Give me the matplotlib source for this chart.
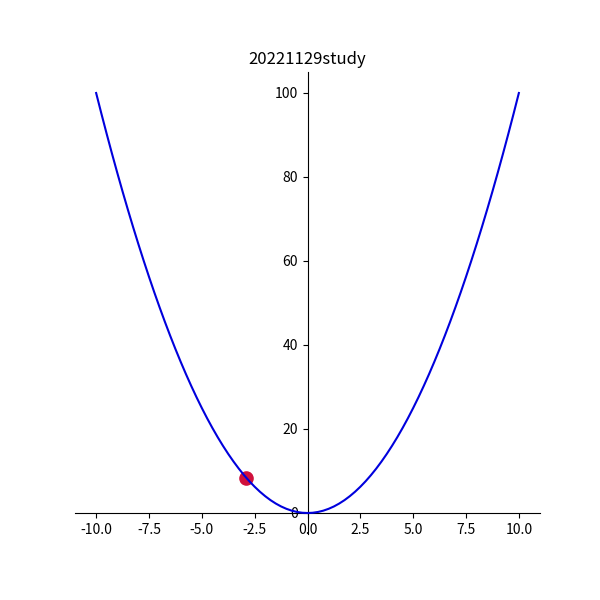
import numpy as np
import matplotlib.pyplot as plt

plt.rcParams['font.family'] = ['Noto Sans CJK SC', 'DejaVu Sans']
plt.rcParams['axes.unicode_minus'] = False

# curve points
x = [-10.0, -9.75, -9.5, -9.25, -9.0, -8.75, -8.5, -8.25, -8.0, -7.75,
     -7.5, -7.25, -7.0, -6.75, -6.5, -6.25, -6.0, -5.75, -5.5, -5.25,
     -5.0, -4.75, -4.5, -4.25, -4.0, -3.75, -3.5, -3.25, -3.0, -2.75,
     -2.5, -2.25, -2.0, -1.75, -1.5, -1.25, -1.0, -0.75, -0.5, -0.25,
     0.0, 0.25, 0.5, 0.75, 1.0, 1.25, 1.5, 1.75, 2.0, 2.25,
     2.5, 2.75, 3.0, 3.25, 3.5, 3.75, 4.0, 4.25, 4.5, 4.75,
     5.0, 5.25, 5.5, 5.75, 6.0, 6.25, 6.5, 6.75, 7.0, 7.25,
     7.5, 7.75, 8.0, 8.25, 8.5, 8.75, 9.0, 9.25, 9.5, 9.75, 10.0]
y = [100.0, 95.06, 90.25, 85.56, 81.0, 76.56, 72.25, 68.06, 64.0, 60.06,
     56.25, 52.56, 49.0, 45.56, 42.25, 39.06, 36.0, 33.06, 30.25, 27.56,
     25.0, 22.56, 20.25, 18.06, 16.0, 14.06, 12.25, 10.56, 9.0, 7.56,
     6.25, 5.06, 4.0, 3.06, 2.25, 1.56, 1.0, 0.56, 0.25, 0.06,
     0.0, 0.06, 0.25, 0.56, 1.0, 1.56, 2.25, 3.06, 4.0, 5.06,
     6.25, 7.56, 9.0, 10.56, 12.25, 14.06, 16.0, 18.06, 20.25, 22.56,
     25.0, 27.56, 30.25, 33.06, 36.0, 39.06, 42.25, 45.56, 49.0, 52.56,
     56.25, 60.06, 64.0, 68.06, 72.25, 76.56, 81.0, 85.56, 90.25, 95.06, 100.0]

# highlighted point
px = [-2.9]
py = [8.41]

fig = plt.figure(figsize=(6, 6), dpi=100)
ax = plt.gca()
ax.plot(x, y, color='#0000dd', zorder=3)
ax.scatter(px, py, s=90, color='#d0103c', zorder=2)
ax.set_title("20221129study")

ax.spines['right'].set_color('none')
ax.spines['top'].set_color('none')
ax.spines['left'].set_position(('data', 0))
ax.spines['bottom'].set_position(('data', 0))

plt.savefig("out.png")
